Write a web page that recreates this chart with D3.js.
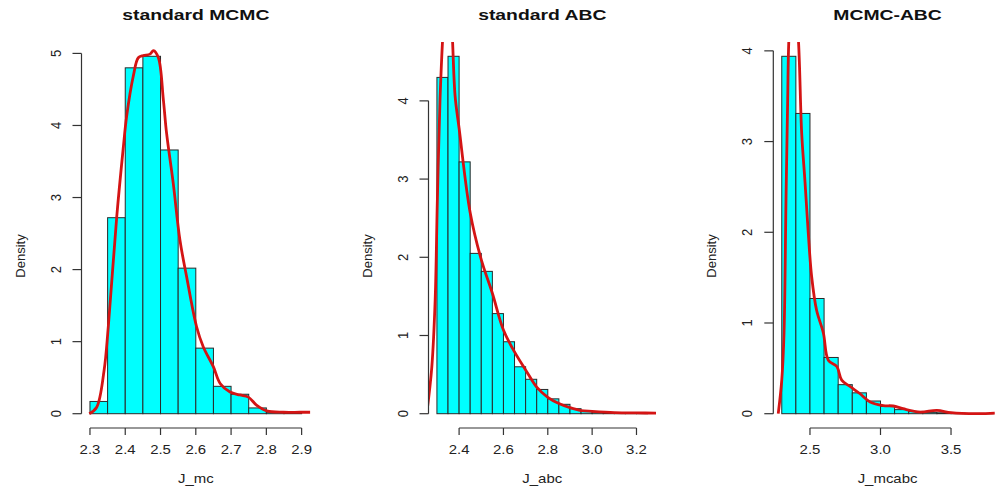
<!DOCTYPE html>
<html><head><meta charset="utf-8">
<script src="https://cdn.jsdelivr.net/npm/d3@7"></script>
<style>body{margin:0;background:#fff}svg{display:block;font-family:"Liberation Sans",Arial,Helvetica,sans-serif}</style>
</head><body><svg id="c" width="996" height="490"></svg>
<script>
// ---------- data ----------
const titles = ["standard MCMC", "standard ABC", "MCMC-ABC"];
const xLabels = ["J_mc", "J_abc", "J_mcabc"];
const yLabel = "Density";

// panel 1 : standard MCMC
const mcBreakStart = 2.30, mcBinWidth = 0.05;
const mcDensity = [0.17, 2.72, 4.80, 4.96, 3.66, 2.02, 0.91, 0.38, 0.27, 0.08, 0.02, 0.01];
const mcCurveX = [2.298, 2.319, 2.340, 2.352, 2.376, 2.394, 2.404, 2.423, 2.437, 2.451, 2.470, 2.480, 2.494, 2.508, 2.517, 2.536, 2.555, 2.574, 2.602, 2.621, 2.650, 2.669, 2.697, 2.725, 2.749, 2.772, 2.801, 2.848, 2.895, 2.928];
const mcCurveY = [0.00, 0.09, 0.60, 1.21, 2.74, 3.67, 4.13, 4.69, 4.94, 4.97, 4.99, 5.04, 4.94, 4.36, 3.90, 3.20, 2.41, 1.90, 1.21, 0.93, 0.65, 0.42, 0.30, 0.26, 0.23, 0.12, 0.04, 0.02, 0.02, 0.02];
const mcXTicks = [2.3, 2.4, 2.5, 2.6, 2.7, 2.8, 2.9];
const mcYTicks = [0, 1, 2, 3, 4, 5];

// panel 2 : standard ABC
const abcBreakStart = 2.30, abcBinWidth = 0.05;
const abcDensity = [4.30, 4.57, 3.22, 2.05, 1.82, 1.28, 0.92, 0.60, 0.44, 0.31, 0.19, 0.12, 0.064, 0.03, 0.02, 0.01, 0.005, 0.005, 0.003];
const abcCurveX = [2.254, 2.277, 2.292, 2.302, 2.314, 2.329, 2.347, 2.367, 2.382, 2.400, 2.450, 2.500, 2.550, 2.600, 2.650, 2.700, 2.750, 2.800, 2.850, 2.900, 2.950, 3.000, 3.100, 3.200, 3.298];
const abcCurveY = [0.00, 0.60, 1.45, 2.74, 4.02, 4.95, 5.60, 4.95, 4.06, 3.65, 2.57, 1.97, 1.54, 1.07, 0.79, 0.56, 0.34, 0.21, 0.13, 0.077, 0.04, 0.03, 0.015, 0.01, 0.008];
const abcXTicks = [2.4, 2.6, 2.8, 3.0, 3.2];
const abcYTicks = [0, 1, 2, 3, 4];

// panel 3 : MCMC-ABC
const mcabcBreakStart = 2.3, mcabcBinWidth = 0.1;
const mcabcDensity = [3.94, 3.31, 1.27, 0.62, 0.32, 0.23, 0.14, 0.08, 0.045, 0.025, 0.015, 0.01, 0.005, 0.003, 0.003];
const mcabcCurveX = [2.275, 2.300, 2.316, 2.330, 2.342, 2.351, 2.380, 2.417, 2.441, 2.465, 2.488, 2.512, 2.547, 2.595, 2.630, 2.690, 2.725, 2.784, 2.855, 2.926, 3.020, 3.090, 3.160, 3.280, 3.400, 3.500, 3.680, 3.810];
const mcabcCurveY = [0.00, 0.37, 0.89, 2.36, 3.47, 4.15, 4.80, 4.15, 3.10, 2.55, 1.99, 1.51, 1.14, 0.89, 0.59, 0.52, 0.37, 0.30, 0.22, 0.13, 0.09, 0.085, 0.055, 0.018, 0.037, 0.011, 0.00, 0.007];
const mcabcXTicks = [2.5, 3.0, 3.5];
const mcabcYTicks = [0, 1, 2, 3, 4];

const panels = [
  {breakStart: mcBreakStart, binWidth: mcBinWidth, density: mcDensity, cx: mcCurveX, cy: mcCurveY, xTicks: mcXTicks, yTicks: mcYTicks, xFmt: d3.format(".1f")},
  {breakStart: abcBreakStart, binWidth: abcBinWidth, density: abcDensity, cx: abcCurveX, cy: abcCurveY, xTicks: abcXTicks, yTicks: abcYTicks, xFmt: d3.format(".1f")},
  {breakStart: mcabcBreakStart, binWidth: mcabcBinWidth, density: mcabcDensity, cx: mcabcCurveX, cy: mcabcCurveY, xTicks: mcabcXTicks, yTicks: mcabcYTicks, xFmt: d3.format(".1f")}
];

// ---------- layout ----------
const plotLeft = [81.5, 428.5, 773.3];
const plotWidth = [228.6, 227.5, 228.5];
const plotTop = 42, plotBottom = 428;
const SX = 1.15;      // horizontal stretch of the reference raster
const svg = d3.select("#c");
svg.append("rect").attr("width", 996).attr("height", 490).attr("fill", "#fff");

panels.forEach((p, i) => {
  const n = p.density.length;
  const b0 = p.breakStart, bN = p.breakStart + n * p.binWidth;
  const xr = bN - b0;
  const ymax = d3.max(p.density);
  const x = d3.scaleLinear().domain([b0 - 0.04 * xr, bN + 0.04 * xr]).range([plotLeft[i], plotLeft[i] + plotWidth[i]]);
  const y = d3.scaleLinear().domain([-0.04 * ymax, 1.04 * ymax]).range([plotBottom, plotTop]);
  const g = svg.append("g");

  const clipId = "clip" + i;
  svg.append("clipPath").attr("id", clipId).append("rect")
    .attr("x", plotLeft[i]).attr("y", plotTop).attr("width", plotWidth[i]).attr("height", plotBottom - plotTop);

  // bars
  g.append("g").selectAll("rect").data(p.density).join("rect")
    .attr("x", (d, k) => x(b0 + k * p.binWidth))
    .attr("width", (d, k) => x(b0 + (k + 1) * p.binWidth) - x(b0 + k * p.binWidth))
    .attr("y", d => y(d))
    .attr("height", d => y(0) - y(d))
    .attr("fill", "#00ffff").attr("stroke", "#2a2a2a").attr("stroke-width", 1);

  // density curve
  const line = d3.line().x(d => x(d[0])).y(d => y(d[1])).curve(d3.curveCatmullRom.alpha(0.5));
  g.append("path").datum(p.cx.map((v, k) => [v, p.cy[k]]))
    .attr("clip-path", `url(#${clipId})`)
    .attr("d", line).attr("fill", "none").attr("stroke", "#d41414").attr("stroke-width", 2.8)
    .attr("stroke-linejoin", "round");

  // x axis
  const xa = g.append("g").attr("transform", `translate(0,${plotBottom})`);
  xa.append("line").attr("x1", x(p.xTicks[0])).attr("x2", x(p.xTicks[p.xTicks.length - 1]))
    .attr("y1", 0).attr("y2", 0).attr("stroke", "#333").attr("stroke-width", 1.2);
  xa.selectAll("line.t").data(p.xTicks).join("line").attr("class", "t")
    .attr("x1", d => x(d)).attr("x2", d => x(d)).attr("y1", 0).attr("y2", 7)
    .attr("stroke", "#333").attr("stroke-width", 1.2);
  xa.selectAll("text").data(p.xTicks).join("text")
    .attr("transform", d => `translate(${x(d)},26) scale(${SX},1)`)
    .attr("text-anchor", "middle").attr("font-size", 13).attr("fill", "#222")
    .text(d => p.xFmt(d));

  // y axis
  const ya = g.append("g").attr("transform", `translate(${plotLeft[i]},0)`);
  ya.append("line").attr("x1", 0).attr("x2", 0)
    .attr("y1", y(p.yTicks[0])).attr("y2", y(p.yTicks[p.yTicks.length - 1]))
    .attr("stroke", "#333").attr("stroke-width", 1.2);
  ya.selectAll("line.t").data(p.yTicks).join("line").attr("class", "t")
    .attr("x1", 0).attr("x2", -9).attr("y1", d => y(d)).attr("y2", d => y(d))
    .attr("stroke", "#333").attr("stroke-width", 1.2);
  ya.selectAll("text").data(p.yTicks).join("text")
    .attr("transform", d => `translate(-21,${y(d)}) scale(${SX},1) rotate(-90)`)
    .attr("text-anchor", "middle").attr("font-size", 13).attr("fill", "#222")
    .text(d => d);

  const cx = plotLeft[i] + plotWidth[i] / 2;
  // title
  svg.append("text").attr("transform", `translate(${cx},20) scale(1.29,1)`)
    .attr("text-anchor", "middle").attr("font-size", 15).attr("font-weight", "bold").attr("fill", "#111")
    .text(titles[i]);
  // x label
  svg.append("text").attr("transform", `translate(${cx},483) scale(${SX},1)`)
    .attr("text-anchor", "middle").attr("font-size", 13).attr("fill", "#222")
    .text(xLabels[i]);
  // y label
  svg.append("text").attr("transform", `translate(${plotLeft[i] - 57},${(plotTop + plotBottom) / 2 + 21}) scale(1.05,1) rotate(-90)`)
    .attr("text-anchor", "middle").attr("font-size", 13).attr("fill", "#222")
    .text(yLabel);
});
</script></body></html>
